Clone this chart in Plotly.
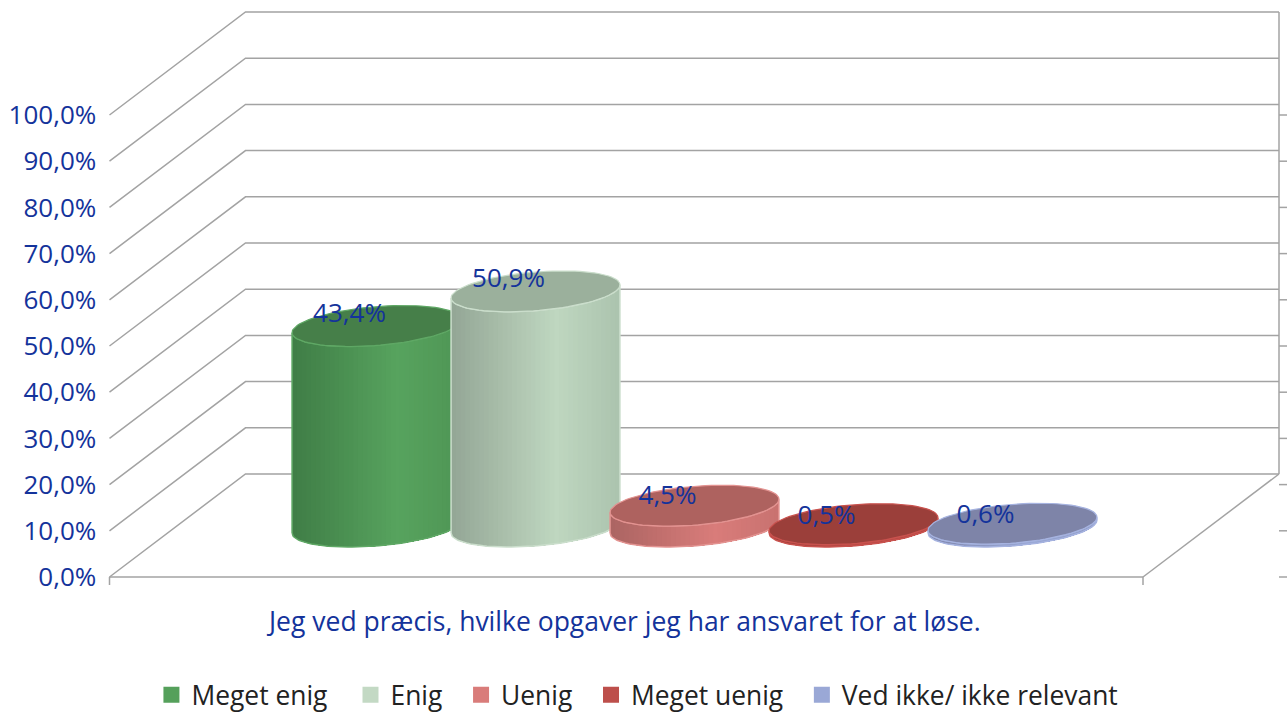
import numpy as np
import plotly.graph_objects as go

# ---- data ----
series_names = ["Meget enig", "Enig", "Uenig", "Meget uenig", "Ved ikke/ ikke relevant"]
series_values = [43.4, 50.9, 4.5, 0.5, 0.6]
value_labels = ["43,4%", "50,9%", "4,5%", "0,5%", "0,6%"]
y_ticks = [0, 10, 20, 30, 40, 50, 60, 70, 80, 90, 100]
y_tick_labels = ["0,0%", "10,0%", "20,0%", "30,0%", "40,0%", "50,0%", "60,0%", "70,0%", "80,0%", "90,0%", "100,0%"]
category_label = "Jeg ved præcis, hvilke opgaver jeg har ansvaret for at løse."

# ---- style ----
shade_dark = ["#3f7d46", "#93a695", "#ab6462", "#a03f3a", "#7e86ac"]
shade_bright = ["#57a35e", "#bfd7c0", "#d97c7a", "#bd4a45", "#9aa8d6"]
shade_end = ["#4f9555", "#abc3ae", "#c87270", "#ad4440", "#8e9ac4"]
top_fill = ["#467f49", "#9bb09c", "#ae625f", "#9b3f3a", "#7e84a8"]
edge = ["#5fa865", "#cbdecc", "#e39391", "#c9524e", "#a6b3e0"]
legend_col = ["#55a05b", "#c3d9c4", "#d97c7a", "#bd4f4b", "#9aa8d6"]
label_lift = [10.5, 11.0, 8.5, 7.0, 7.5]   # pixels above the top-face centre
TXT = "#14339b"
GRID = "#a3a3a3"
FONT = "Open Sans"

W, H = 1288, 740            # a little taller than the window, so the legend does not push the plot margin
X0, X1 = 109.5, 1143.0      # front edge of floor
DX, DY = 136.0, 103.0       # depth vector, pixels
Y0 = 577.0                  # pixel of value 0
PX = 4.62                   # pixels per percentage point
FIRST, PITCH = 376.5, 159.0 # centre of first cylinder and spacing
RX, EX, EY = 80.0, 27.0, 20.5
BASE = 50.5                 # floor offset of cylinder base centre, pixels


def up(px):
    return px / PX


fig = go.Figure()


def line(xs, ys, width=1.5, color=GRID):
    fig.add_trace(go.Scatter(x=xs, y=ys, mode="lines", line=dict(color=color, width=width),
                             showlegend=False, hoverinfo="skip"))


# ---- walls, floor ----
for v in y_ticks:
    b = v + up(DY)
    line([X0, X0 + DX, X1 + DX], [v, b, b])
    line([X1 + DX, X1 + DX + 8], [v, v])
line([X0, X1], [0, 0])
line([X1, X1 + DX], [0, up(DY)])
line([X1 + DX, X1 + DX], [up(DY), 100 + up(DY)])
for x in (X0, X1):
    line([x, x], [0, up(-8)])


def hexrgb(h):
    return np.array([int(h[i:i + 2], 16) for i in (1, 3, 5)], float)


def mix(a, b, f):
    c = hexrgb(a) * (1 - f) + hexrgb(b) * f
    return "rgb(%d,%d,%d)" % tuple(c.round())


tr = np.arctan2(EX, RX)


def arc(cx, cy, t):
    return cx + RX * np.cos(t) + EX * np.sin(t), cy + up(EY) * np.sin(t)


# ---- cylinders ----
for i, val in enumerate(series_values):
    cx = FIRST + i * PITCH
    base = up(BASE)
    top = base + val
    n = 36
    edges = np.linspace(-1, 1, n + 1)
    ts = tr - np.arccos(edges)
    for k in range(n):
        f = (k + 0.5) / n
        col = mix(shade_dark[i], shade_bright[i], f / 0.62) if f < 0.62 else mix(shade_bright[i], shade_end[i], (f - 0.62) / 0.38)
        # each strip runs on to the right edge; the next one paints over it, so no seams appear
        t = np.linspace(ts[k], ts[-1], 40)
        xb, yb = arc(cx, base, t)
        xt, yt = arc(cx, top, t)
        fig.add_trace(go.Scatter(x=np.r_[xb, xt[::-1]], y=np.r_[yb, yt[::-1]], mode="none", fill="toself",
                                 fillcolor=col, showlegend=False, hoverinfo="skip"))
    # body outline
    t = np.linspace(ts[0], ts[-1], 60)
    xb, yb = arc(cx, base, t)
    xt, yt = arc(cx, top, t)
    fig.add_trace(go.Scatter(x=np.r_[xb, xt[::-1], xb[0]], y=np.r_[yb, yt[::-1], yb[0]], mode="lines",
                             line=dict(color=edge[i], width=1.5), showlegend=False, hoverinfo="skip"))
    # top face
    t = np.linspace(0, 2 * np.pi, 90)
    xt, yt = arc(cx, top, t)
    fig.add_trace(go.Scatter(x=xt, y=yt, mode="lines", fill="toself", fillcolor=top_fill[i],
                             line=dict(color=edge[i], width=1.2), showlegend=False, hoverinfo="skip"))

# ---- value labels ----
fig.add_trace(go.Scatter(
    x=[FIRST + i * PITCH - 27 for i in range(len(series_values))],
    y=[up(BASE) + v + up(label_lift[i]) for i, v in enumerate(series_values)],
    mode="text", text=value_labels, textposition="middle center",
    textfont=dict(family=FONT, size=26, color=TXT), showlegend=False, hoverinfo="skip"))

# ---- legend ----
pad = ["\u00a0\u00a0\u2009", "\u00a0\u00a0", "\u00a0\u00a0", "\u00a0\u00a0", ""]
for i, name in enumerate(series_names):
    fig.add_trace(go.Scatter(x=[None], y=[None], mode="markers", name=name + pad[i],
                             marker=dict(symbol="square", size=16, color=legend_col[i])))

fig.add_annotation(x=623, y=up(-44), text=category_label, showarrow=False,
                   font=dict(family=FONT, size=26.5, color=TXT), xanchor="center", yanchor="middle")

fig.update_layout(
    width=W, height=H, margin=dict(l=0, r=0, t=0, b=0), paper_bgcolor="white", plot_bgcolor="white",
    font=dict(family=FONT),
    showlegend=True,
    legend=dict(orientation="h", x=0.4949, xanchor="center", y=1 - 695 / H, yanchor="middle",
                font=dict(family=FONT, size=26.4, color="#222222"), itemclick=False, bgcolor="rgba(0,0,0,0)"),
    xaxis=dict(range=[0, W], visible=False, domain=[0, 1], fixedrange=True),
    yaxis=dict(range=[up(Y0 - H), up(Y0)], anchor="free", position=X0 / W, tickmode="array",
               tickvals=y_ticks, ticktext=y_tick_labels, showgrid=False, zeroline=False, showline=False,
               ticks="outside", ticklen=8, tickcolor="rgba(0,0,0,0)",
               tickfont=dict(family=FONT, size=26, color=TXT), fixedrange=True),
)
fig.write_html("out.html", config=dict(displayModeBar=False),
               post_script="document.body.style.margin='0';document.documentElement.style.overflow='hidden';")
